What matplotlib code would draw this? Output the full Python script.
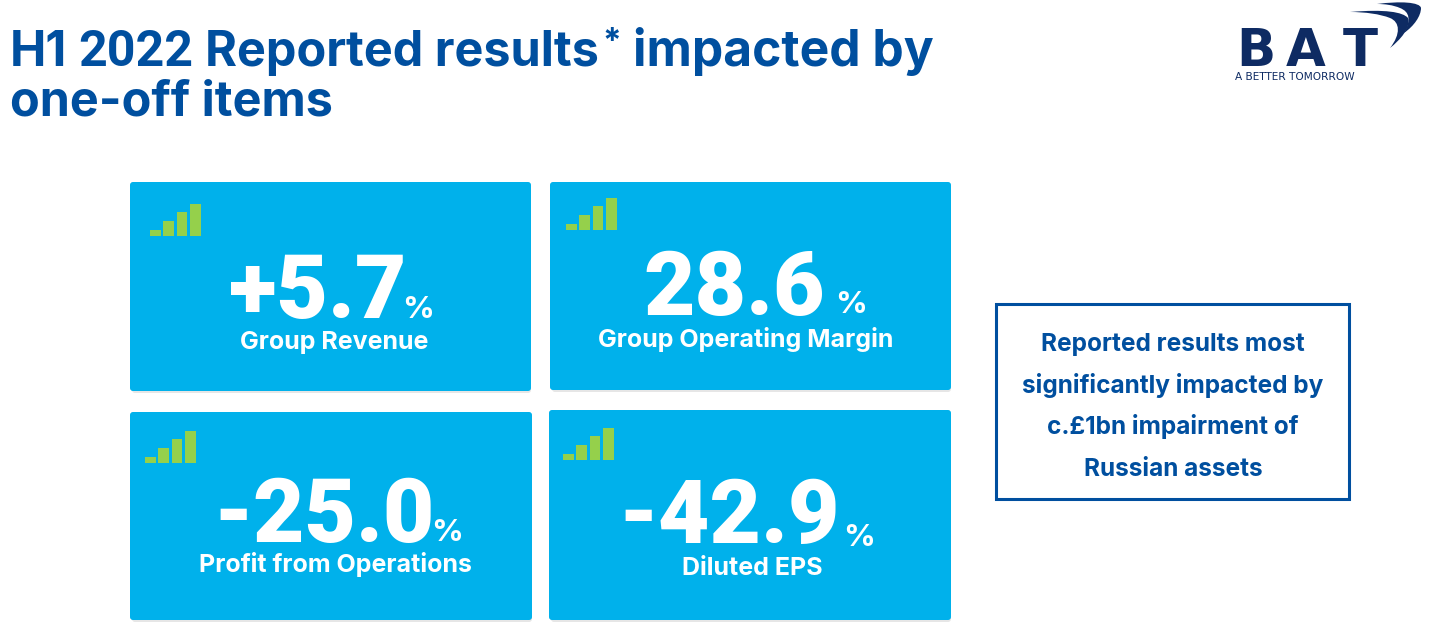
#!/usr/bin/env python3
import matplotlib
matplotlib.use('Agg')
import matplotlib.pyplot as plt
from matplotlib.patches import FancyBboxPatch, Rectangle, PathPatch
from matplotlib.path import Path

plt.rcParams['font.family'] = ['Inter', 'DejaVu Sans']

values = ['+5.7', '28.6', '-25.0', '-42.9']
labels = ['Group Revenue', 'Group Operating Margin', 'Profit from Operations', 'Diluted EPS']
signal_bars = [6, 15, 24, 32]
note_lines = ['Reported results most', 'significantly impacted by',
              'c.£1bn impairment of', 'Russian assets']

BLUE = '#004f9f'
CYAN = '#00b1eb'
GREEN = '#95d04b'
NAVY = '#0e2b63'

# left, top, right, bottom of each card in pixels
cards = [(130, 182, 531, 391), (550, 182, 951, 390), (130, 412, 532, 620), (549, 410, 951, 620)]
icons = [(150, 236), (566, 230), (145, 463), (563, 460)]
value_pos = [(229, 318), (643, 315), (213, 542), (618, 543)]
pct_pos = [(402, 318), (835, 313), (431, 541), (843, 546)]
label_pos = [(334, 349), (746, 347), (335, 572), (752, 575)]


def curve(pts):
    # pts is start point followed by triples of bezier points
    codes = [Path.MOVETO] + [Path.CURVE4] * (len(pts) - 1)
    return Path(pts, codes)


fig = plt.figure(figsize=(14.35, 6.26), dpi=100)
ax = fig.add_axes([0, 0, 1, 1])
ax.set_xlim(0, 1435)
ax.set_ylim(626, 0)
ax.axis('off')

# title
ax.text(10, 66, 'H1', color=BLUE, fontsize=35, fontweight='bold', va='baseline')
ax.text(78, 66, '2022', color=BLUE, fontsize=36, fontweight='bold', family='Roboto', va='baseline')
ax.text(205, 66, 'Reported results', color=BLUE, fontsize=35, fontweight='bold', va='baseline')
ax.text(602, 52, '*', color=BLUE, fontsize=24, fontweight='bold', va='baseline')
ax.text(633, 66, 'impacted by', color=BLUE, fontsize=35.8, fontweight='bold', va='baseline')
ax.text(10, 115, 'one-off items', color=BLUE, fontsize=35, fontweight='bold', va='baseline')

# cards
for i in range(4):
    x0, y0, x1, y1 = cards[i]
    ax.add_patch(FancyBboxPatch((x0 + 2, y0 + 3), x1 - x0 - 2, y1 - y0 - 1,
                                boxstyle='round,pad=0,rounding_size=3', fc='#e6e6e6', ec='none', zorder=1))
    ax.add_patch(FancyBboxPatch((x0, y0), x1 - x0, y1 - y0,
                                boxstyle='round,pad=0,rounding_size=3', fc=CYAN, ec='none', zorder=2))
    ix, iy = icons[i]
    for j, h in enumerate(signal_bars):
        ax.add_patch(Rectangle((ix + j * 13.4, iy - h), 10.6, h, fc=GREEN, ec='none', zorder=3))
    ax.text(value_pos[i][0], value_pos[i][1], values[i], color='white', fontsize=64,
            fontweight='black', family='Roboto', va='baseline', zorder=4)
    ax.text(pct_pos[i][0], pct_pos[i][1], '%', color='white', fontsize=22.5,
            fontweight='bold', va='baseline', zorder=4)
    ax.text(label_pos[i][0], label_pos[i][1], labels[i], color='white', fontsize=18,
            fontweight='bold', ha='center', va='baseline', zorder=4)

# note box
ax.add_patch(Rectangle((996, 304), 353, 195, fc='white', ec=BLUE, lw=2.2))
for k, line in enumerate(note_lines):
    ax.text(1173, 351 + k * 41.7, line, color=BLUE, fontsize=17.6, fontweight='bold',
            ha='center', va='baseline')

# logo
ax.text(1236, 66, 'B', color=NAVY, fontsize=37, fontweight='bold', family='DejaVu Sans', va='baseline')
ax.text(1286, 66, 'A', color=NAVY, fontsize=37, fontweight='bold', family='DejaVu Sans', va='baseline')
ax.text(1343, 66, 'T', color=NAVY, fontsize=37, fontweight='bold', family='DejaVu Sans', va='baseline')
ax.text(1235, 80, 'A BETTER TOMORROW', color=NAVY, fontsize=7.6, family='DejaVu Sans', va='baseline')
outer = [(1350, 12), (1385, 9), (1403, 12), (1408, 18),
         (1411, 28), (1400, 40), (1390, 48),
         (1401, 34), (1400, 22), (1390, 18),
         (1380, 14), (1365, 12), (1350, 12)]
inner = [(1377, 4), (1400, 1), (1420, 2), (1421, 8),
         (1421, 16), (1414, 26), (1404, 33),
         (1411, 20), (1410, 12), (1400, 8),
         (1393, 5), (1385, 4), (1377, 4)]
ax.add_patch(PathPatch(curve(outer), fc=NAVY, ec='none'))
ax.add_patch(PathPatch(curve(inner), fc=NAVY, ec='none'))

fig.savefig('out.png', dpi=100)
